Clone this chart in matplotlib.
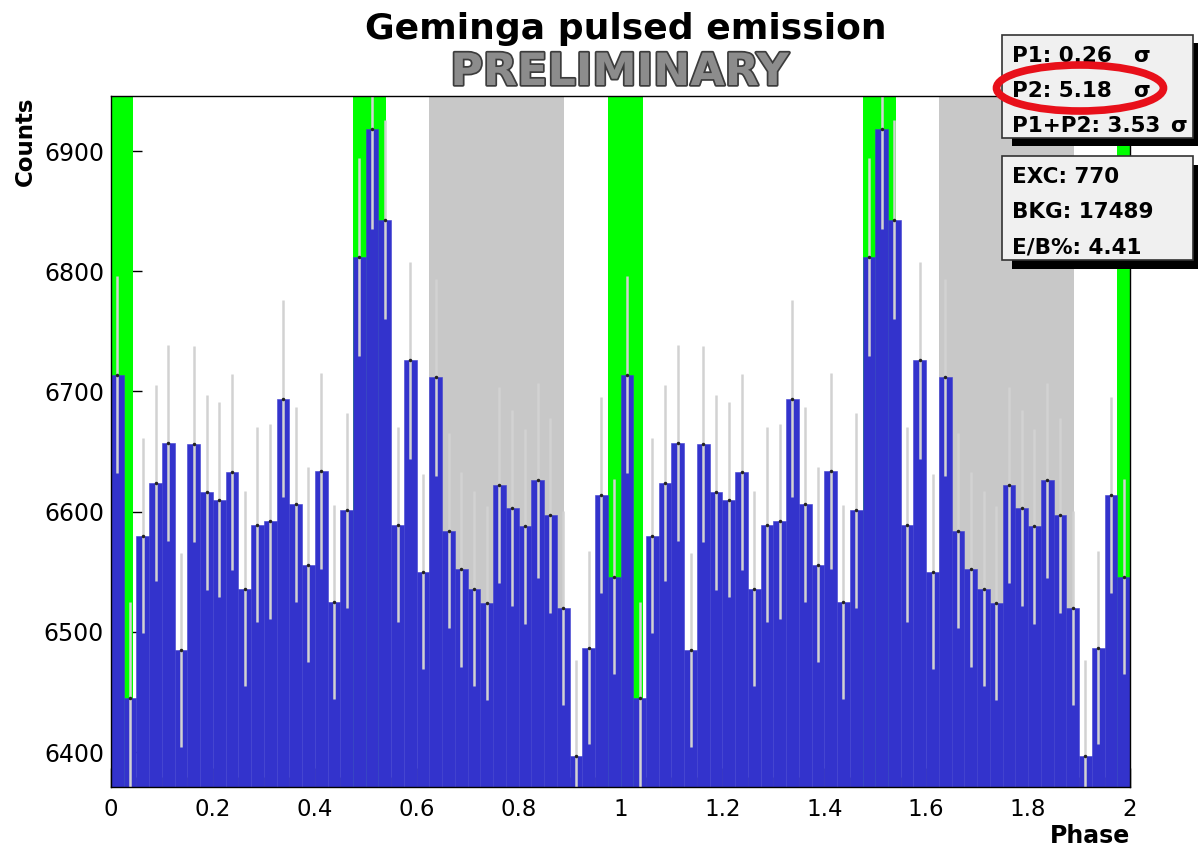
import numpy as np
import matplotlib.pyplot as plt
import matplotlib.patheffects as pe
from matplotlib.patches import Rectangle, Ellipse

W, H = 1198, 847

# counts per phase bin, one pulsar period (40 bins), shown twice
bin_width = 0.025
counts_period = [6714, 6445, 6580, 6624, 6657, 6485, 6656, 6616, 6610, 6633,
                 6536, 6589, 6592, 6694, 6606, 6556, 6634, 6525, 6601, 6812,
                 6918, 6843, 6589, 6726, 6550, 6712, 6584, 6552, 6536, 6524,
                 6622, 6603, 6588, 6626, 6597, 6520, 6397, 6487, 6614, 6546]
n_periods = 2

# signal (P1, P2) and background phase ranges
p1_range = (-0.025, 0.044)
p2_range = (0.475, 0.54)
bkg_range = (0.625, 0.89)

xticks = [0, 0.2, 0.4, 0.6, 0.8, 1, 1.2, 1.4, 1.6, 1.8, 2]
xtick_labels = ['0', '0.2', '0.4', '0.6', '0.8', '1', '1.2', '1.4', '1.6', '1.8', '2']
yticks = [6400, 6500, 6600, 6700, 6800, 6900]

sig_lines = [('P1: 0.26', 'σ'), ('P2: 5.18', 'σ'), ('P1+P2: 3.53', 'σ')]
exc_lines = ['EXC: 770', 'BKG: 17489', 'E/B%: 4.41']


def fx(x):
    return x / W


def fy(y):
    return 1 - y / H


counts = np.array(counts_period * n_periods, dtype=float)
left_edges = np.arange(len(counts)) * bin_width
centers = left_edges + bin_width / 2

fig = plt.figure(figsize=(W / 100, H / 100), dpi=100)
ax = fig.add_axes([fx(111), fy(787), (1130 - 111) / W, (787 - 95.7) / H])
ax.set_axisbelow(True)

for off in range(n_periods + 1):
    ax.axvspan(bkg_range[0] + off, bkg_range[1] + off, color='#c8c8c8', lw=0, zorder=1)
    ax.axvspan(p1_range[0] + off, p1_range[1] + off, color='#00ff00', lw=0, zorder=1)
    ax.axvspan(p2_range[0] + off, p2_range[1] + off, color='#00ff00', lw=0, zorder=1)

ax.bar(left_edges, counts, width=bin_width, align='edge', color='#3333cc',
       edgecolor='#4040d0', linewidth=0.4, zorder=2)
ax.errorbar(centers, counts, yerr=np.sqrt(counts), fmt='none', ecolor='#d2d2d2',
            elinewidth=1.8, zorder=3)
ax.plot(centers, counts, 'o', color='#222222', ms=1.5, zorder=4)

ax.set_xlim(0, 2)
ax.set_ylim(6371, 6946)
ax.set_xticks(xticks)
ax.set_xticklabels(xtick_labels)
ax.set_xticks(np.arange(0, 2.001, 0.05), minor=True)
ax.set_yticks(yticks)
ax.tick_params(axis='y', direction='in', length=22, width=1, pad=5, labelsize=17)
ax.tick_params(axis='x', which='major', direction='in', length=14, width=1, pad=8, labelsize=16.5)
ax.tick_params(axis='x', which='minor', direction='in', length=7, width=0.8)
for s in ax.spines.values():
    s.set_linewidth(1.0)
    s.set_zorder(5)

fig.text(fx(626), fy(39), 'Geminga pulsed emission', ha='center', va='baseline',
         fontsize=26, fontweight='bold')
fig.text(fx(620), fy(85), 'PRELIMINARY', ha='center', va='baseline',
         fontsize=32, fontweight='bold', color='#8c8c8c',
         path_effects=[pe.withStroke(linewidth=2.5, foreground='#3c3c3c')])
fig.text(fx(25), fy(97), 'Counts', rotation=90, ha='center', va='top',
         fontsize=16.5, fontweight='bold')
fig.text(fx(1130), fy(843), 'Phase', ha='right', va='baseline',
         fontsize=17, fontweight='bold')


def stat_box(y0, y1, lines, baselines):
    x0, x1 = 1002, 1193
    fig.add_artist(Rectangle((fx(x0 + 10), fy(y1 + 8.5)), (x1 - x0) / W, (y1 - y0) / H,
                             transform=fig.transFigure, facecolor='black',
                             edgecolor='none', zorder=10))
    fig.add_artist(Rectangle((fx(x0), fy(y1)), (x1 - x0) / W, (y1 - y0) / H,
                             transform=fig.transFigure, facecolor='#f0f0f0',
                             edgecolor='#333333', linewidth=1.2, zorder=11))
    for line, yb in zip(lines, baselines):
        fig.text(fx(1012), fy(yb), line, ha='left', va='baseline', fontsize=15.5,
                 fontweight='bold', zorder=12)


stat_box(35, 138, [s[0] for s in sig_lines], [61.7, 96.7, 131.7])
for (label, sym), yb, xs in zip(sig_lines, [61.7, 96.7, 131.7], [1133, 1133, 1170]):
    fig.text(fx(xs), fy(yb), sym, ha='left', va='baseline', fontsize=15.5,
             fontweight='bold', zorder=12)
stat_box(156, 260, exc_lines, [183.3, 218.3, 253.3])

fig.add_artist(Ellipse((fx(1080), fy(88)), 167 / W, 46 / H, transform=fig.transFigure,
                       fill=False, edgecolor='#e8101a', linewidth=5.5, zorder=13))

fig.savefig('out.png', dpi=100)
